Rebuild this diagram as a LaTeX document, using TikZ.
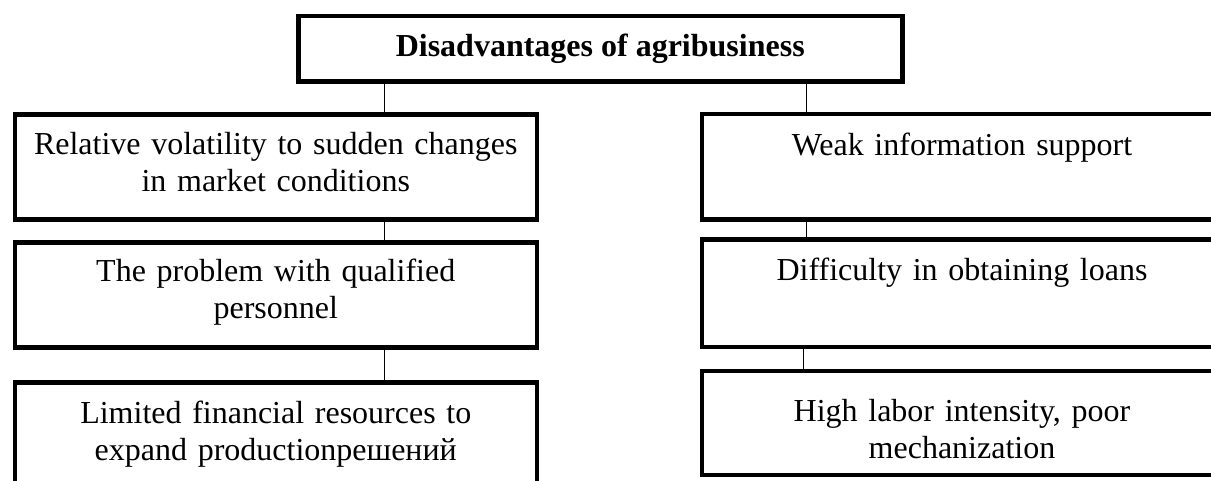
\documentclass[tikz,border=0pt]{standalone}
\usepackage{fontspec}
\setmainfont{Liberation Serif}
\usetikzlibrary{calc}
\begin{document}
\begin{tikzpicture}[x=1pt,y=1pt,
  box/.style={draw, line width=4.5pt, rectangle, inner sep=0pt, anchor=north west,
    minimum width=522pt, minimum height=105pt},
  rbox/.style={box, minimum width=520.5pt},
  txt/.style={anchor=base, align=center, text width=515pt, inner sep=0pt,
    font=\fontsize{32}{37}\selectfont},
  conn/.style={line width=1pt}]
\useasboundingbox (0,0) rectangle (1211,-481);
\clip (0,0) rectangle (1211,-481);
\fill[white] (0,0) rectangle (1211,-481);
% title
\node[draw, line width=4.5pt, inner sep=0pt, minimum width=604pt, minimum height=65.5pt,
  anchor=north west, font=\bfseries\fontsize{32}{37}\selectfont] (T) at (296,-14)
  {Disadvantages of agribusiness};
% left column
\node[box, minimum height=105pt] (L1) at (12.5,-112.5) {};
\node[box, minimum height=104.5pt] (L2) at (12.5,-240.5) {};
\node[box, minimum height=110pt] (L3) at (12.5,-380) {};
% right column
\node[rbox, minimum height=105.5pt] (R1) at (699.5,-112) {};
\node[rbox, minimum height=107pt] (R2) at (699.5,-237.5) {};
\node[rbox, minimum height=104pt] (R3) at (699.5,-368.5) {};
% texts
\node[txt] (L1t) at ($(L1.north)+(0,-42.5)$) {Relative volatility to sudden changes\\in market conditions};
\node[txt] (L2t) at ($(L2.north)+(0,-41.5)$) {The problem with qualified\\personnel};
\node[txt] (L3t) at ($(L3.north)+(0,-43)$) {Limited financial resources to\\expand productionрешений};
\node[txt] (R1t) at ($(R1.north)+(0,-44)$) {Weak information support};
\node[txt] (R2t) at ($(R2.north)+(0,-43.5)$) {Difficulty in obtaining loans};
\node[txt] (R3t) at ($(R3.north)+(0,-52.5)$) {High labor intensity, poor\\mechanization};
% connectors
\coordinate (cl) at (384.5,0);
\coordinate (cr) at (806,0);
\coordinate (cr2) at (803,0);
\draw[conn] (T.south -| cl) -- (L1.north -| cl);
\draw[conn] (T.south -| cr) -- (R1.north -| cr);
\draw[conn] (L1.south -| cl) -- (L2.north -| cl);
\draw[conn] (L2.south -| cl) -- (L3.north -| cl);
\draw[conn] (R1.south -| cr) -- (R2.north -| cr);
\draw[conn] (R2.south -| cr2) -- (R3.north -| cr2);
\end{tikzpicture}
\end{document}
